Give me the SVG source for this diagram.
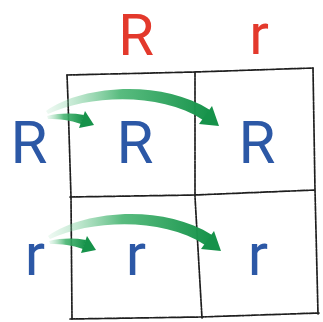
<svg xmlns="http://www.w3.org/2000/svg" width="323" height="322" viewBox="0 0 323 322">
<defs>
<style>
.grid{fill:none;stroke:#1e1e1e;stroke-width:1.7;stroke-dasharray:5 1.2 2 1;stroke-linecap:round}
.red{fill:#e3392c;font-family:Roboto,"Open Sans",sans-serif;font-size:58px;text-anchor:middle}
.blue{fill:#2c58a6;font-family:Roboto,"Open Sans",sans-serif;font-size:60px;text-anchor:middle}
.head{fill:#16924a}
</style>
<linearGradient id="g" x1="0" y1="0" x2="1" y2="0">
<stop offset="0" stop-color="#8fd8ac" stop-opacity="0.15"/>
<stop offset="0.45" stop-color="#3cb069" stop-opacity="0.85"/>
<stop offset="1" stop-color="#16924a"/>
</linearGradient>
</defs>
<rect width="323" height="322" fill="#ffffff"/>
<g id="grid">
<path class="grid" d="M67,75 L195,72 L313,68"/>
<path class="grid" d="M70,197 L195,195 L315,190"/>
<path class="grid" d="M70,319 L200,317 L319,313"/>
<path class="grid" d="M67,75 L68,100 L71,197 L72,319"/>
<path class="grid" d="M195,72 L195,197 L202,318"/>
<path class="grid" d="M313,68 L315,190 L318,314"/>
</g>
<g id="col-R"><text class="red" x="136" y="55">R</text></g>
<g id="col-r"><text class="red" x="259" y="54">r</text></g>
<g id="row-R"><text class="blue" x="29" y="163">R</text></g>
<g id="row-r"><text class="blue" x="35" y="275">r</text></g>
<g id="cell-RR"><text class="blue" x="135" y="163">R</text></g>
<g id="cell-rR"><text class="blue" x="257" y="163">R</text></g>
<g id="cell-Rr"><text class="blue" x="136" y="275">r</text></g>
<g id="cell-rr"><text class="blue" x="258" y="275">r</text></g>
<g id="connectors" fill="url(#g)">
<g id="a1">
<path d="M46,111 C80,86 160,78 210,110 L203,120 C160,92 90,95 48,114 Z"/>
<path class="head" d="M212,106 L219,126 L199,124 Z"/>
<path d="M47,116 C60,113 72,113 84,115 L81,124 C70,120 60,119 48,119 Z"/>
<path class="head" d="M85,111 L94,125 L79,128 Z"/>
</g>
<g id="a2" transform="translate(2,125)">
<path d="M46,111 C80,86 160,78 210,110 L203,120 C160,92 90,95 48,114 Z"/>
<path class="head" d="M212,106 L219,126 L199,124 Z"/>
<path d="M47,116 C60,113 72,113 84,115 L81,124 C70,120 60,119 48,119 Z"/>
<path class="head" d="M85,111 L94,125 L79,128 Z"/>
</g>
</g>
</svg>
